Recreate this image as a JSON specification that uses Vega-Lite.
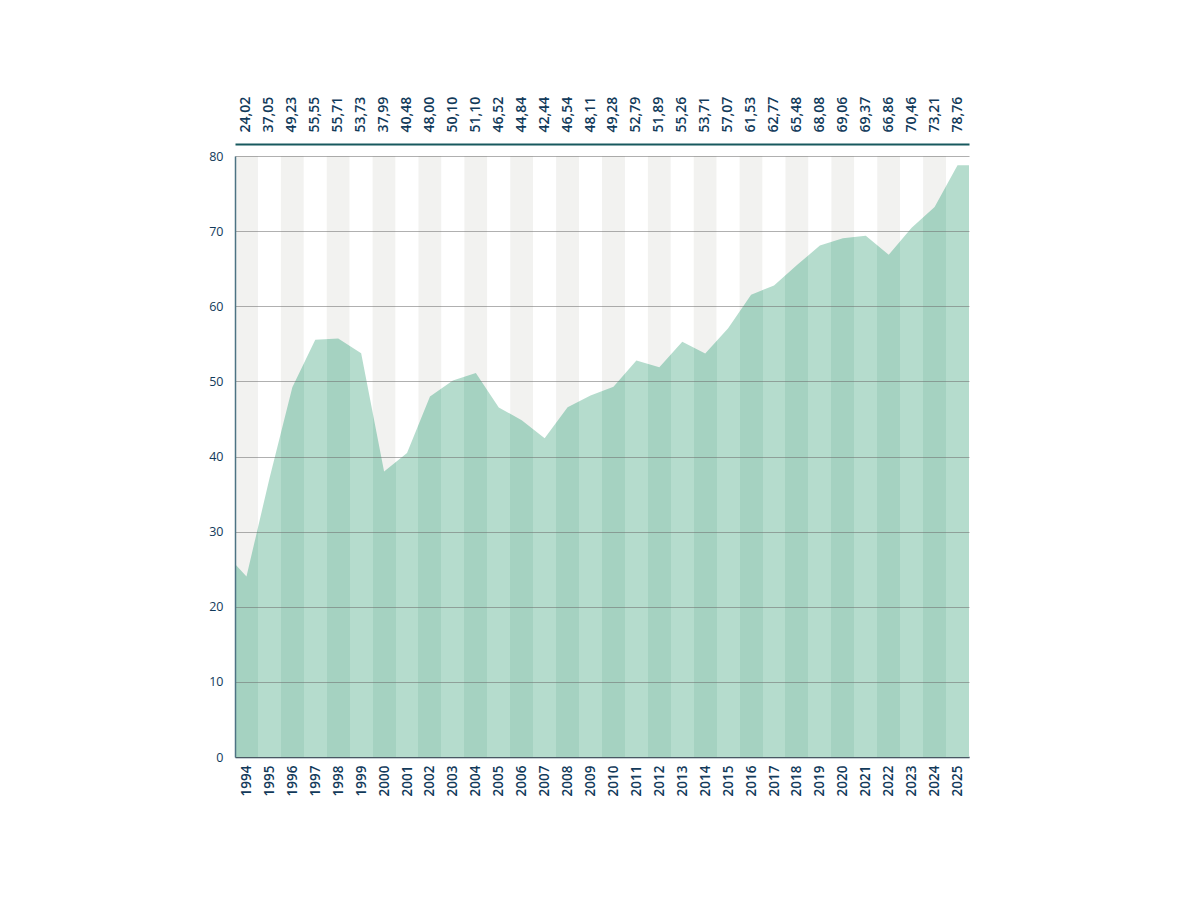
{
  "$schema": "https://vega.github.io/schema/vega-lite/v6.json",
  "padding": {"left": 208, "top": 96, "right": 5, "bottom": 5},
  "width": 734,
  "height": 601,
  "background": "#ffffff",
  "config": {
    "locale": {"number": {"decimal": ",", "thousands": ".", "grouping": [3], "currency": ["", " €"]}},
    "view": {"stroke": null},
    "font": "Open Sans"
  },
  "datasets": {
    "ratio": [
      {"year": 1993.5, "value": 25.7},
      {"year": 1994, "value": 24.02},
      {"year": 1995, "value": 37.05},
      {"year": 1996, "value": 49.23},
      {"year": 1997, "value": 55.55},
      {"year": 1998, "value": 55.71},
      {"year": 1999, "value": 53.73},
      {"year": 2000, "value": 37.99},
      {"year": 2001, "value": 40.48},
      {"year": 2002, "value": 48.00},
      {"year": 2003, "value": 50.10},
      {"year": 2004, "value": 51.10},
      {"year": 2005, "value": 46.52},
      {"year": 2006, "value": 44.84},
      {"year": 2007, "value": 42.44},
      {"year": 2008, "value": 46.54},
      {"year": 2009, "value": 48.11},
      {"year": 2010, "value": 49.28},
      {"year": 2011, "value": 52.79},
      {"year": 2012, "value": 51.89},
      {"year": 2013, "value": 55.26},
      {"year": 2014, "value": 53.71},
      {"year": 2015, "value": 57.07},
      {"year": 2016, "value": 61.53},
      {"year": 2017, "value": 62.77},
      {"year": 2018, "value": 65.48},
      {"year": 2019, "value": 68.08},
      {"year": 2020, "value": 69.06},
      {"year": 2021, "value": 69.37},
      {"year": 2022, "value": 66.86},
      {"year": 2023, "value": 70.46},
      {"year": 2024, "value": 73.21},
      {"year": 2025, "value": 78.76},
      {"year": 2025.5, "value": 78.76}
    ]
  },
  "data": {"name": "ratio"},
  "layer": [
    {
      "transform": [{"filter": "datum.year % 1 === 0"}],
      "mark": {"type": "rect"},
      "encoding": {
        "x": {
          "field": "value",
          "type": "ordinal",
          "sort": {"field": "year", "op": "min"},
          "scale": {"paddingInner": 0, "paddingOuter": 0},
          "axis": {
            "orient": "top",
            "title": null,
            "format": ".2f",
            "formatType": "number",
            "labelAngle": -90,
            "domainColor": "#17595e",
            "domainWidth": 2,
            "offset": 12,
            "ticks": false,
            "labelPadding": 12,
            "labelFont": "Open Sans",
            "labelFontSize": 14,
            "labelFontWeight": 600,
            "labelColor": "#123a5a"
          }
        },
        "y": {"datum": 80, "type": "quantitative"},
        "y2": {"datum": 0},
        "color": {
          "condition": {"test": "datum.year % 2 === 0", "value": "#f2f2f0"},
          "value": "#ffffff"
        }
      }
    },
    {
      "mark": {
        "type": "area",
        "interpolate": "linear",
        "fill": {
          "gradient": "linear",
          "x1": 0, "x2": 1, "y1": 0, "y2": 0,
          "stops": [
            {"offset": 0, "color": "#a5d2c1"}, {"offset": 0.03125, "color": "#a5d2c1"},
            {"offset": 0.03125, "color": "#b5dccd"}, {"offset": 0.0625, "color": "#b5dccd"},
            {"offset": 0.0625, "color": "#a5d2c1"}, {"offset": 0.09375, "color": "#a5d2c1"},
            {"offset": 0.09375, "color": "#b5dccd"}, {"offset": 0.125, "color": "#b5dccd"},
            {"offset": 0.125, "color": "#a5d2c1"}, {"offset": 0.15625, "color": "#a5d2c1"},
            {"offset": 0.15625, "color": "#b5dccd"}, {"offset": 0.1875, "color": "#b5dccd"},
            {"offset": 0.1875, "color": "#a5d2c1"}, {"offset": 0.21875, "color": "#a5d2c1"},
            {"offset": 0.21875, "color": "#b5dccd"}, {"offset": 0.25, "color": "#b5dccd"},
            {"offset": 0.25, "color": "#a5d2c1"}, {"offset": 0.28125, "color": "#a5d2c1"},
            {"offset": 0.28125, "color": "#b5dccd"}, {"offset": 0.3125, "color": "#b5dccd"},
            {"offset": 0.3125, "color": "#a5d2c1"}, {"offset": 0.34375, "color": "#a5d2c1"},
            {"offset": 0.34375, "color": "#b5dccd"}, {"offset": 0.375, "color": "#b5dccd"},
            {"offset": 0.375, "color": "#a5d2c1"}, {"offset": 0.40625, "color": "#a5d2c1"},
            {"offset": 0.40625, "color": "#b5dccd"}, {"offset": 0.4375, "color": "#b5dccd"},
            {"offset": 0.4375, "color": "#a5d2c1"}, {"offset": 0.46875, "color": "#a5d2c1"},
            {"offset": 0.46875, "color": "#b5dccd"}, {"offset": 0.5, "color": "#b5dccd"},
            {"offset": 0.5, "color": "#a5d2c1"}, {"offset": 0.53125, "color": "#a5d2c1"},
            {"offset": 0.53125, "color": "#b5dccd"}, {"offset": 0.5625, "color": "#b5dccd"},
            {"offset": 0.5625, "color": "#a5d2c1"}, {"offset": 0.59375, "color": "#a5d2c1"},
            {"offset": 0.59375, "color": "#b5dccd"}, {"offset": 0.625, "color": "#b5dccd"},
            {"offset": 0.625, "color": "#a5d2c1"}, {"offset": 0.65625, "color": "#a5d2c1"},
            {"offset": 0.65625, "color": "#b5dccd"}, {"offset": 0.6875, "color": "#b5dccd"},
            {"offset": 0.6875, "color": "#a5d2c1"}, {"offset": 0.71875, "color": "#a5d2c1"},
            {"offset": 0.71875, "color": "#b5dccd"}, {"offset": 0.75, "color": "#b5dccd"},
            {"offset": 0.75, "color": "#a5d2c1"}, {"offset": 0.78125, "color": "#a5d2c1"},
            {"offset": 0.78125, "color": "#b5dccd"}, {"offset": 0.8125, "color": "#b5dccd"},
            {"offset": 0.8125, "color": "#a5d2c1"}, {"offset": 0.84375, "color": "#a5d2c1"},
            {"offset": 0.84375, "color": "#b5dccd"}, {"offset": 0.875, "color": "#b5dccd"},
            {"offset": 0.875, "color": "#a5d2c1"}, {"offset": 0.90625, "color": "#a5d2c1"},
            {"offset": 0.90625, "color": "#b5dccd"}, {"offset": 0.9375, "color": "#b5dccd"},
            {"offset": 0.9375, "color": "#a5d2c1"}, {"offset": 0.96875, "color": "#a5d2c1"},
            {"offset": 0.96875, "color": "#b5dccd"}, {"offset": 1, "color": "#b5dccd"}
          ]
        }
      },
      "encoding": {
        "x": {
          "field": "year",
          "type": "quantitative",
          "scale": {"domain": [1993.5, 2025.5], "nice": false, "zero": false},
          "axis": {
            "orient": "bottom",
            "title": null,
            "tickCount": 32,
            "format": "d",
            "labelAngle": -90,
            "ticks": false,
            "grid": false,
            "domainColor": "#1c3d56",
            "domainWidth": 1.5,
            "labelPadding": 8,
            "labelFont": "Open Sans",
            "labelFontSize": 13.5,
            "labelFontWeight": 600,
            "labelColor": "#123a5a",
            "labelFlush": false,
            "labelOverlap": false
          }
        },
        "y": {
          "field": "value",
          "type": "quantitative",
          "scale": {"domain": [0, 80], "nice": false},
          "axis": {
            "title": null,
            "tickCount": 8,
            "grid": true,
            "gridColor": "#707070",
            "gridOpacity": 0.55,
            "zindex": 1,
            "ticks": false,
            "domainColor": "#4d7383",
            "domainWidth": 1.5,
            "labelPadding": 12,
            "labelFont": "Open Sans",
            "labelFontSize": 12.5,
            "labelColor": "#123a5a"
          }
        }
      }
    }
  ],
  "resolve": {"scale": {"x": "independent"}, "axis": {"x": "independent"}}
}
